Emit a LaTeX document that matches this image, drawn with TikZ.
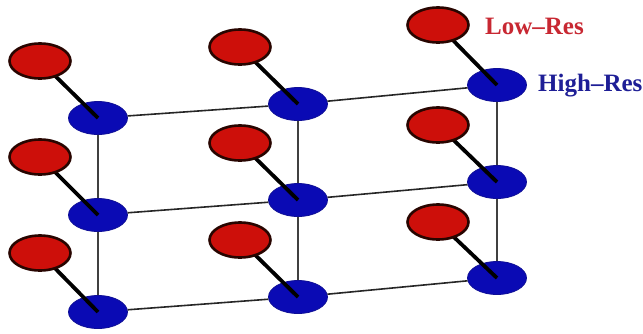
\documentclass[tikz,border=0pt]{standalone}
\usepackage{fontspec}
\setmainfont{Liberation Serif}
\usetikzlibrary{shapes.geometric}
\definecolor{lowred}{RGB}{205,15,10}
\definecolor{lowedge}{RGB}{40,5,0}
\definecolor{hiblue}{RGB}{10,10,180}
\definecolor{hiedge}{RGB}{15,15,150}
\definecolor{lowtext}{RGB}{200,40,50}
\definecolor{hitext}{RGB}{30,30,150}
\tikzset{
  lownode/.style={ellipse, draw=lowedge, line width=2.6pt, fill=lowred, minimum width=61pt, minimum height=35pt, inner sep=0pt},
  hinode/.style={ellipse, draw=hiedge, line width=0.8pt, fill=hiblue, minimum width=59pt, minimum height=33pt, inner sep=0pt},
  link/.style={line width=3.8pt, black},
  rowline/.style={line width=1.6pt, black!85},
  colline/.style={line width=1.1pt, black!75},
  lbl/.style={font=\fontsize{25}{28}\selectfont\bfseries, anchor=west, inner sep=0pt}
}
\begin{document}
\begin{tikzpicture}[x=1pt,y=-1pt]
\useasboundingbox (0,0) rectangle (643,333);
\fill[white] (0,0) rectangle (643,333);
% blue (high-res) nodes
\node[hinode] (b11) at (98,118) {};
\node[hinode] (b21) at (98,215) {};
\node[hinode] (b31) at (98,312) {};
\node[hinode] (b12) at (298,104) {};
\node[hinode] (b22) at (298,200) {};
\node[hinode] (b32) at (298,297) {};
\node[hinode] (b13) at (497,85) {};
\node[hinode] (b23) at (497,182) {};
\node[hinode] (b33) at (497,278) {};
% grid lines
\foreach \r in {1,2,3}{
  \draw[rowline] (b\r1) -- (b\r2);
  \draw[rowline] (b\r2) -- (b\r3);
}
\foreach \c in {1,2,3}{
  \draw[colline] (b1\c) -- (b2\c);
  \draw[colline] (b2\c) -- (b3\c);
}
% red (low-res) node positions
\coordinate (r11p) at (40,61);
\coordinate (r21p) at (40,157);
\coordinate (r31p) at (40,253);
\coordinate (r12p) at (240,47);
\coordinate (r22p) at (240,143);
\coordinate (r32p) at (240,240);
\coordinate (r13p) at (438,25);
\coordinate (r23p) at (438,125);
\coordinate (r33p) at (438,222);
\foreach \r in {1,2,3}{
  \foreach \c in {1,2,3}{
    \draw[link] (r\r\c p) -- (b\r\c.center);
    \node[lownode] (r\r\c) at (r\r\c p) {};
  }
}
% labels
\node[lbl, text=lowtext] (lowlbl) at (485,26) {Low--Res};
\node[lbl, text=hitext] (hilbl) at (538,86) {High--Res};
\end{tikzpicture}
\end{document}
